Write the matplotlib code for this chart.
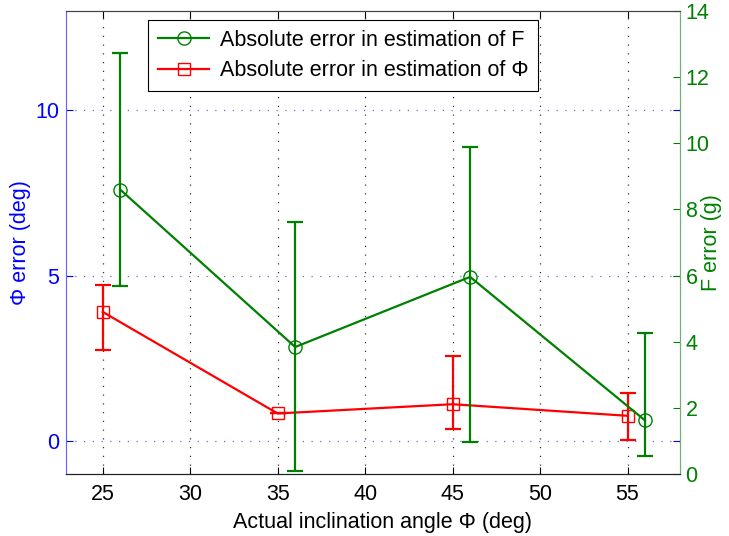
import matplotlib
matplotlib.use("Agg")
import matplotlib.pyplot as plt
import numpy as np

plt.rcParams['font.family'] = ['Liberation Sans', 'DejaVu Sans']

# Data
phi_x = [25, 35, 45, 55]
phi_err = [3.9, 0.83, 1.11, 0.76]
phi_low = [2.74, 0.83, 0.37, 0.04]
phi_high = [4.73, 0.83, 2.56, 1.44]

f_x = [26, 36, 46, 56]
f_err = [8.6, 3.84, 5.96, 1.62]
f_low = [5.67, 0.10, 0.98, 0.55]
f_high = [12.73, 7.62, 9.90, 4.26]

x_ticks = [25, 30, 35, 40, 45, 50, 55]
left_ticks = [0, 5, 10]
right_ticks = [0, 2, 4, 6, 8, 10, 12, 14]

GREEN = '#008000'
RED = '#ff0000'
BLUE = '#0000ff'
FS = 15.5

fig = plt.figure(figsize=(7.29, 5.36), dpi=100)
ax1 = fig.add_axes([66/729, 1 - 474/536, (680-66)/729, (474-11)/536])
ax2 = ax1.twinx()

phi_yerr = [np.array(phi_err) - np.array(phi_low), np.array(phi_high) - np.array(phi_err)]
f_yerr = [np.array(f_err) - np.array(f_low), np.array(f_high) - np.array(f_err)]

h_phi = ax1.errorbar(phi_x, phi_err, yerr=phi_yerr, color=RED, marker='s', mfc='none',
                     mec=RED, ms=9, lw=1.6, capsize=5.5, capthick=1.6, elinewidth=1.6)
h_f = ax2.errorbar(f_x, f_err, yerr=f_yerr, color=GREEN, marker='o', mfc='none',
                   mec=GREEN, ms=9.5, lw=1.6, capsize=5.5, capthick=1.6, elinewidth=1.6)

ax1.set_xlim(22.9, 58.0)
ax1.set_ylim(-1, 13)
ax2.set_ylim(0, 14)

ax1.set_xticks(x_ticks)
ax1.set_yticks(left_ticks)
ax2.set_yticks(right_ticks)

ax1.grid(axis='x', linestyle=(0, (1, 6)), color='#333333', lw=0.9)
ax1.grid(axis='y', linestyle=(0, (1, 6)), color='#6666ee', lw=0.9)

ax1.tick_params(axis='x', direction='in', length=5, top=True, colors='k', labelsize=FS, pad=7)
ax1.tick_params(axis='y', direction='in', length=5, right=True, color=BLUE, labelcolor=BLUE,
                labelsize=FS, pad=5)
ax2.tick_params(axis='y', direction='in', length=5, color=GREEN, labelcolor=GREEN,
                labelsize=FS, pad=4)

for ax in (ax1, ax2):
    ax.spines['left'].set_color('#6666ff')
    ax.spines['right'].set_color('#70b070')
    ax.spines['top'].set_color('#444444')
    ax.spines['bottom'].set_color('#222222')

ax1.set_xlabel('Actual inclination angle Φ (deg)', fontsize=FS)
ax1.xaxis.set_label_coords(0.516, -0.083)
ax1.set_ylabel('Φ error (deg)', color=BLUE, fontsize=FS)
ax2.set_ylabel('F error (g)', color=GREEN, fontsize=FS)
ax1.yaxis.set_label_coords(-0.057, 0.5)
ax2.yaxis.set_label_coords(1.034, 0.5)

leg = ax2.legend([h_f.lines[0], h_phi.lines[0]],
                 ['Absolute error in estimation of F', 'Absolute error in estimation of Φ'],
                 loc='upper left', bbox_to_anchor=((148-66)/614, (474-20)/463),
                 borderaxespad=0, fancybox=False, framealpha=1, edgecolor='k',
                 fontsize=FS, handlelength=2.4, handletextpad=0.5, borderpad=0.45,
                 labelspacing=0.45)
leg.get_frame().set_linewidth(0.8)

fig.savefig('out.png', dpi=100)
